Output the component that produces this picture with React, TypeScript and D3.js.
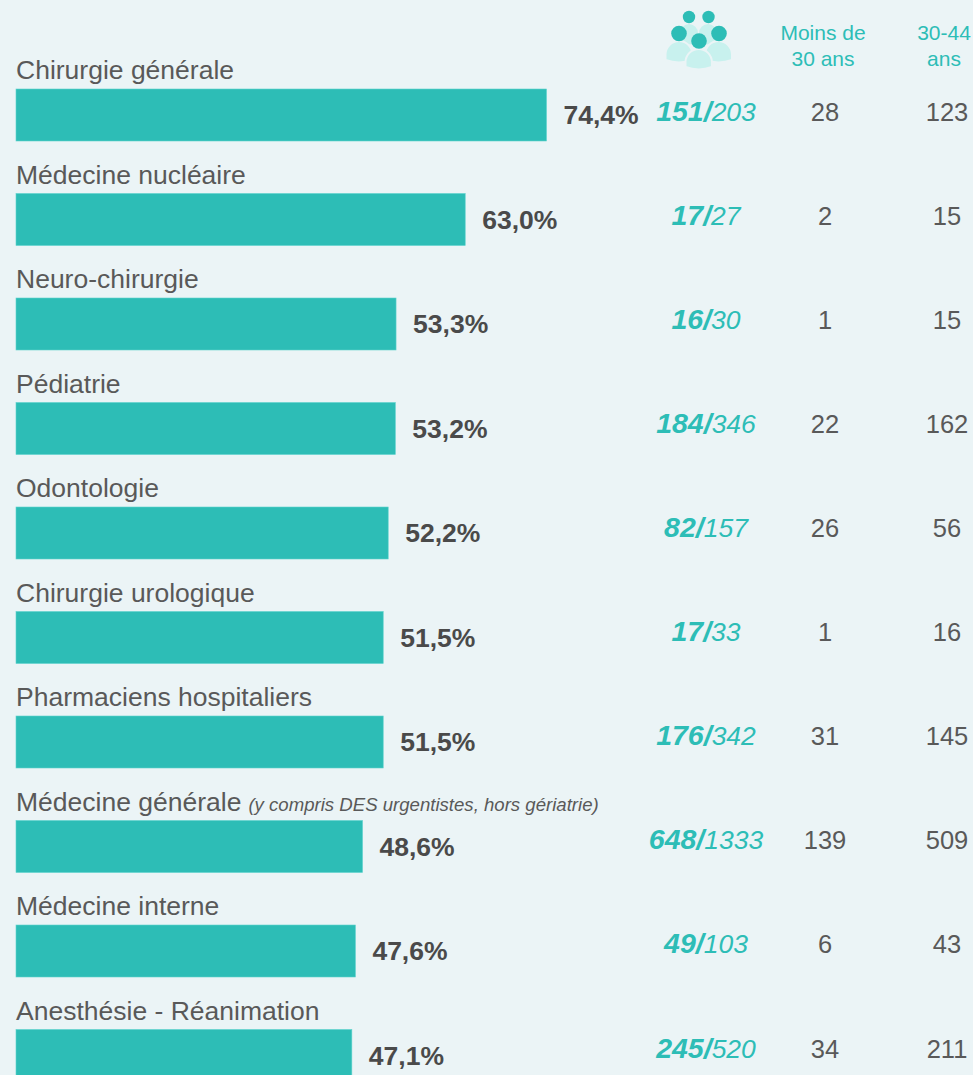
import React from "react";
import * as d3 from "d3";

const categories = ["Chirurgie générale","Médecine nucléaire","Neuro-chirurgie","Pédiatrie","Odontologie","Chirurgie urologique","Pharmaciens hospitaliers","Médecine générale","Médecine interne","Anesthésie - Réanimation"];
const percents = [74.4,63.0,53.3,53.2,52.2,51.5,51.5,48.6,47.6,47.1];
const numerators = [151,17,16,184,82,17,176,648,49,245];
const denominators = [203,27,30,346,157,33,342,1333,103,520];
const under30 = [28,2,1,22,26,1,31,139,6,34];
const age30to44 = [123,15,15,162,56,16,145,509,43,211];
const note = "(y compris DES urgentistes, hors gériatrie)";

const W = 973, H = 1075;
const TEAL = "#2dbdb6", GREY = "#595959", LIGHT = "#c8f1ee", BG = "#ebf4f6";
const FONT = "'Liberation Sans', Arial, sans-serif";
const x = d3.scaleLinear().domain([0, 74.4]).range([16, 546.5]);
const y = d3.scaleLinear().domain([0, 9]).range([89, 1029.5]);
const yTable = d3.scaleLinear().domain([0, 9]).range([121, 1057.5]);
const BAR_H = 52;

function Icon() {
  const body = (cx: number, top: number, rx: number, h: number, fill = LIGHT) => (
    <path d={`M${cx - rx},${top + h - 2} V${top + rx} A${rx},${rx} 0 0 1 ${cx + rx},${top + rx} V${top + h - 2} Q${cx},${top + h + 3} ${cx - rx},${top + h - 2} Z`} fill={fill} />
  );
  return (
    <g>
      {body(689, 24, 9, 20)}
      {body(708, 24, 9, 20)}
      <circle cx={689} cy={17} r={6.2} fill={TEAL} />
      <circle cx={708.5} cy={17} r={6.2} fill={TEAL} />
      <g stroke={BG} strokeWidth={2}>
        {body(679, 41, 13.5, 21)}
        {body(718.5, 41, 13.5, 21)}
        {body(698.7, 49, 13.2, 20)}
      </g>
      <circle cx={679} cy={33.5} r={7.8} fill={TEAL} />
      <circle cx={719} cy={33.5} r={7.8} fill={TEAL} />
      <circle cx={699} cy={41} r={7.8} fill={TEAL} />
    </g>
  );
}

export default function App() {
  return (
    <svg width={W} height={H} viewBox={`0 0 ${W} ${H}`} style={{ position: "absolute", left: 0, top: 0, background: BG, fontFamily: FONT }}>
      <rect width={W} height={H} fill={BG} />
      <Icon />
      <g fill={TEAL} fontSize={21} textAnchor="middle">
        <text x={823} y={40}>Moins de</text>
        <text x={823} y={66}>30 ans</text>
        <text x={944} y={40}>30-44</text>
        <text x={944} y={66}>ans</text>
      </g>
      {categories.map((c, i) => {
        const top = y(i);
        const mid = top + 35;
        const rowY = yTable(i);
        return (
          <g key={c}>
            <text x={16} y={top - 10} fontSize={26.5} fill={GREY}>
              {c}
              {i === 7 && <tspan dx={7} fontSize={18.6} fontStyle="italic">{note}</tspan>}
            </text>
            <rect x={x(0)} y={top} width={x(percents[i]) - x(0)} height={BAR_H} fill={TEAL} stroke="#5fd3cd" strokeWidth={0.6} />
            <text x={x(percents[i]) + 17} y={mid} fontSize={26.5} fontWeight={700} fill="#4a4a4a">{d3.format(".1f")(percents[i]).replace(".", ",")}%</text>
            <text x={706} y={rowY} textAnchor="middle" fill={TEAL} fontStyle="italic" fontSize={26.5}>
              <tspan fontWeight={700} fontSize={28.5}>{numerators[i]}/</tspan>
              <tspan>{denominators[i]}</tspan>
            </text>
            <text x={825} y={rowY} textAnchor="middle" fontSize={25.5} fill={GREY}>{under30[i]}</text>
            <text x={947} y={rowY} textAnchor="middle" fontSize={25.5} fill={GREY}>{age30to44[i]}</text>
          </g>
        );
      })}
    </svg>
  );
}
